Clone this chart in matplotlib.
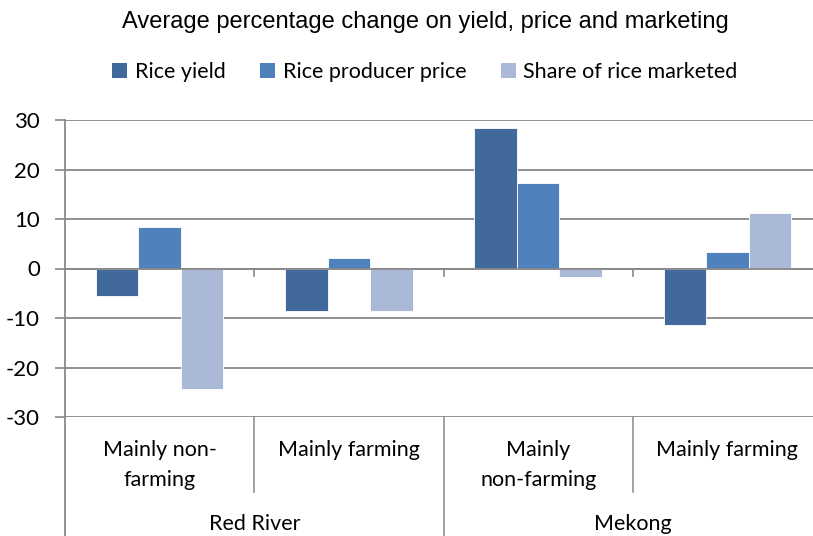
import matplotlib
matplotlib.use("Agg")
import matplotlib.pyplot as plt
from matplotlib.lines import Line2D
from matplotlib.patches import Patch
import numpy as np

subcats = ["Mainly non-\nfarming", "Mainly farming", "Mainly\nnon-farming", "Mainly farming"]
regions = ["Red River", "Mekong"]
series = ["Rice yield", "Rice producer price", "Share of rice marketed"]
rice_yield = [-5.6, -8.5, 28.4, -11.4]
producer_price = [8.3, 2.2, 17.3, 3.4]
share_marketed = [-24.3, -8.5, -1.7, 11.2]
yticks = [-30, -20, -10, 0, 10, 20, 30]

colors = ["#41699B", "#4F81BD", "#AAB9D7"]
grid_c = "#888888"
lab_font = "Lato"
fs = 15.5

W, H = 813, 536
fig = plt.figure(figsize=(W / 100, H / 100), dpi=100)
x0, x1 = 65, 822
ytop, ybot = 120, 417
ax = fig.add_axes([x0 / W, (H - ybot) / H, (x1 - x0) / W, (ybot - ytop) / H])
ax.set_xlim(-0.5, 3.5)
ax.set_ylim(-30, 30)

x = np.arange(len(subcats))
bw = 0.225
for i, (vals, c) in enumerate(zip([rice_yield, producer_price, share_marketed], colors)):
    ax.bar(x + (i - 1) * bw, vals, bw, color=c, edgecolor="white", linewidth=0.6, zorder=3)

for t in yticks:
    ax.axhline(t, color=grid_c, lw=1.3, zorder=1)
ax.axhline(0, color=grid_c, lw=1.3, zorder=4)
for s in ax.spines.values():
    s.set_visible(False)
ax.set_yticks(yticks)
ax.set_yticklabels([str(t) for t in yticks], fontsize=16, family=lab_font)
ax.tick_params(axis="y", length=7, color=grid_c, width=1.2, pad=11)
ax.set_xticks([])

# ticks on zero line
for b in [0.5, 1.5, 2.5]:
    ax.plot([b, b], [0, -1.5], color=grid_c, lw=1.2, zorder=4, clip_on=False)

def fx(px):
    return px / W

def fy(py):
    return (H - py) / H

fig.add_artist(Line2D([fx(x0), fx(x0)], [fy(ytop), fy(H)], color=grid_c, lw=1.3))
cw = (x1 - x0) / 4
for k in [1, 3]:
    xp = x0 + k * cw
    fig.add_artist(Line2D([fx(xp), fx(xp)], [fy(ybot), fy(492)], color=grid_c, lw=1.1))
xp = x0 + 2 * cw
fig.add_artist(Line2D([fx(xp), fx(xp)], [fy(ybot), fy(H)], color=grid_c, lw=1.1))

for k, lab in enumerate(subcats):
    cx = x0 + (k + 0.5) * cw
    fig.text(fx(cx), fy(440), lab, ha="center", va="top", fontsize=fs,
             family=lab_font, linespacing=1.6)
for k, lab in enumerate(regions):
    cx = x0 + (2 * k + 1) * cw
    fig.text(fx(cx), fy(524), lab, ha="center", va="center", fontsize=fs, family=lab_font)

fig.text(fx(425), fy(22), "Average percentage change on yield, price and marketing",
         ha="center", va="center", fontsize=17, family="Liberation Sans")

handles = [Patch(facecolor=c, edgecolor="none") for c in colors]
fig.legend(handles, series, loc="center", bbox_to_anchor=(fx(425), fy(72)), ncol=3,
           frameon=False, prop={"family": lab_font, "size": fs},
           handlelength=0.7, handleheight=0.7, handletextpad=0.35, columnspacing=1.6)

fig.savefig("out.png", dpi=100)
